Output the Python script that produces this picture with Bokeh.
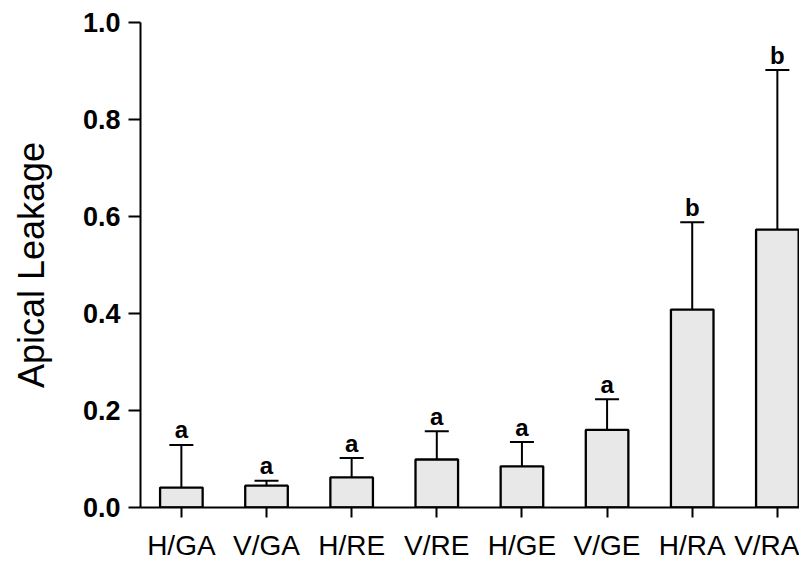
from bokeh.plotting import figure
from bokeh.models import (ColumnDataSource, Range1d, FixedTicker, PrintfTickFormatter,
                          Whisker, TeeHead)
from bokeh.core.properties import value
from bokeh.embed import file_html
from bokeh.resources import INLINE

# ---- data ----
groups = ["H/GA", "V/GA", "H/RE", "V/RE", "H/GE", "V/GE", "H/RA", "V/RA"]
means = [0.041, 0.045, 0.062, 0.099, 0.085, 0.160, 0.408, 0.573]
errors = [0.088, 0.010, 0.040, 0.058, 0.050, 0.063, 0.180, 0.329]
letters = ["a", "a", "a", "a", "a", "a", "b", "b"]
y_ticks = [0.0, 0.2, 0.4, 0.6, 0.8, 1.0]

idx = list(range(len(groups)))
upper = [m + e for m, e in zip(means, errors)]
src = ColumnDataSource(dict(x=idx, top=means, upper=upper, letter=letters))

FONT = "Liberation Sans"

p = figure(width=799, height=563, output_backend="svg", toolbar_location=None,
           x_range=Range1d(-0.48, 7.26), y_range=Range1d(0, 1.0),
           min_border_left=140, min_border_top=22, min_border_bottom=55,
           min_border_right=0)
p.outline_line_color = None
p.grid.visible = False
p.background_fill_color = "white"

p.vbar(x="x", top="top", width=0.5, bottom=0, source=src,
       fill_color="#e8e8e8", line_color="black", line_width=2.3)

wh = Whisker(source=src, base="x", lower="top", upper="upper", dimension="height",
             line_color="black", line_width=2, lower_head=None,
             upper_head=TeeHead(size=24, line_color="black", line_width=2))
p.add_layout(wh)

p.text(x="x", y="upper", text="letter", source=src, y_offset=-15,
       text_font=value(FONT), text_font_style="bold", text_font_size="24px",
       text_align="center", text_baseline="alphabetic", text_color="black")

# y axis
yax = p.yaxis[0]
yax.ticker = FixedTicker(ticks=y_ticks)
yax.formatter = PrintfTickFormatter(format="%.1f")
yax.minor_tick_line_color = None
yax.major_tick_in = 0
yax.major_tick_out = 12
yax.major_tick_line_width = 2
yax.axis_line_width = 2
yax.major_label_standoff = 8
yax.major_label_text_font = FONT
yax.major_label_text_font_style = "bold"
yax.major_label_text_font_size = "27px"
yax.major_label_text_color = "black"
yax.axis_label = "Apical Leakage"
yax.axis_label_text_font = FONT
yax.axis_label_text_font_style = "normal"
yax.axis_label_text_font_size = "36px"
yax.axis_label_standoff = 28
yax.axis_label_text_color = "black"

# x axis
xax = p.xaxis[0]
xax.ticker = FixedTicker(ticks=idx)
xax.major_label_overrides = {i: g for i, g in zip(idx, groups)}
xax.minor_tick_line_color = None
xax.major_tick_in = 0
xax.major_tick_out = 10
xax.major_tick_line_width = 2
xax.axis_line_width = 2
xax.major_label_standoff = 12
xax.major_label_text_font = FONT
xax.major_label_text_font_size = "28px"
xax.major_label_text_color = "black"

open("out.html", "w").write(file_html(p, INLINE))
